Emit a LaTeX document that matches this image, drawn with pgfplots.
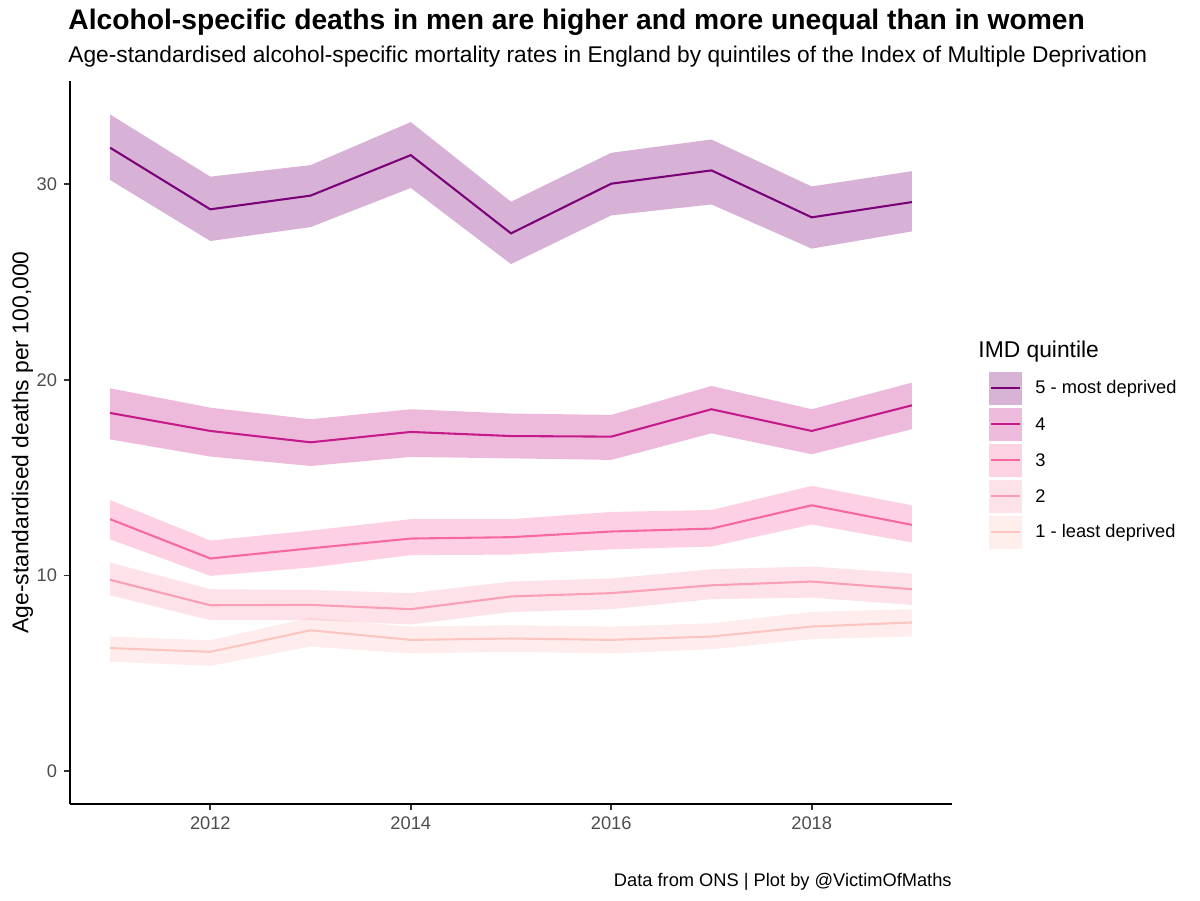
\documentclass[border=0pt]{standalone}
\usepackage{fontspec}
\setmainfont{Liberation Sans}
\usepackage{pgfplots}
\pgfplotsset{compat=1.18}
\usepackage{pgfplotstable}
\usepgfplotslibrary{fillbetween}

\definecolor{q5}{HTML}{7A0177}
\definecolor{q4}{HTML}{C51B8A}
\definecolor{q3}{HTML}{F768A1}
\definecolor{q2}{HTML}{FA9FB5}
\definecolor{q1}{HTML}{FCC5C0}
\definecolor{grey30}{HTML}{4D4D4D}
\definecolor{grey20}{HTML}{333333}

\newlength\px
\setlength\px{0.4818pt}

% year, lower bound, rate, upper bound
\pgfplotstableread{
year lo mid hi
2011 30.22 31.87 33.57
2012 27.10 28.72 30.39
2013 27.81 29.42 30.98
2014 29.81 31.49 33.18
2015 25.92 27.49 29.11
2016 28.41 30.03 31.61
2017 28.97 30.71 32.29
2018 26.71 28.31 29.89
2019 27.59 29.09 30.67
}\tfive
\pgfplotstableread{
year lo mid hi
2011 16.96 18.31 19.57
2012 16.08 17.39 18.58
2013 15.60 16.81 17.99
2014 16.06 17.34 18.50
2015 15.99 17.13 18.28
2016 15.91 17.10 18.21
2017 17.27 18.50 19.69
2018 16.20 17.39 18.50
2019 17.48 18.70 19.86
}\tfour
\pgfplotstableread{
year lo mid hi
2011 11.85 12.88 13.86
2012 9.98 10.87 11.79
2013 10.41 11.39 12.30
2014 11.04 11.89 12.88
2015 11.07 11.96 12.88
2016 11.34 12.25 13.25
2017 11.48 12.40 13.35
2018 12.61 13.59 14.58
2019 11.69 12.59 13.59
}\tthree
\pgfplotstableread{
year lo mid hi
2011 8.99 9.78 10.66
2012 7.72 8.48 9.30
2013 7.72 8.50 9.26
2014 7.50 8.28 9.10
2015 8.14 8.93 9.69
2016 8.28 9.10 9.85
2017 8.79 9.50 10.32
2018 8.87 9.69 10.46
2019 8.50 9.30 10.10
}\ttwo
\pgfplotstableread{
year lo mid hi
2011 5.59 6.29 6.88
2012 5.38 6.10 6.69
2013 6.37 7.20 7.85
2014 6.01 6.71 7.39
2015 6.10 6.78 7.46
2016 6.01 6.71 7.39
2017 6.23 6.88 7.56
2018 6.75 7.39 8.14
2019 6.88 7.60 8.28
}\tone

\begin{document}
\begin{tikzpicture}
\path (0,0) rectangle (1200\px,900\px);

\begin{axis}[
at={(70\px,96\px)}, anchor=south west,
scale only axis,
width=424.95pt, height=348.34pt,
xmin=2010.6, xmax=2019.4,
ymin=-1.68, ymax=35.28,
axis x line*=bottom, axis y line*=left,
axis line style={-, line width=1pt, black},
xtick={2012,2014,2016,2018},
ytick={0,10,20,30},
tick align=outside,
major tick length=2.75pt,
every tick/.append style={grey20, line width=0.9pt},
ticklabel style={font=\fontsize{8.8}{10}\selectfont, text=grey30},
/pgf/number format/assume math mode=true,
x tick label style={/pgf/number format/1000 sep={}},
]
\addplot[draw=none, name path=u1, forget plot] table[x=year, y=hi] {\tone};
\addplot[draw=none, name path=l1, forget plot] table[x=year, y=lo] {\tone};
\addplot[draw=none, name path=u2, forget plot] table[x=year, y=hi] {\ttwo};
\addplot[draw=none, name path=l2, forget plot] table[x=year, y=lo] {\ttwo};
\addplot[draw=none, name path=u3, forget plot] table[x=year, y=hi] {\tthree};
\addplot[draw=none, name path=l3, forget plot] table[x=year, y=lo] {\tthree};
\addplot[draw=none, name path=u4, forget plot] table[x=year, y=hi] {\tfour};
\addplot[draw=none, name path=l4, forget plot] table[x=year, y=lo] {\tfour};
\addplot[draw=none, name path=u5, forget plot] table[x=year, y=hi] {\tfive};
\addplot[draw=none, name path=l5, forget plot] table[x=year, y=lo] {\tfive};

\addplot[fill=q1, fill opacity=0.3, draw=none, forget plot] fill between[of=u1 and l1];
\addplot[fill=q2, fill opacity=0.3, draw=none, forget plot] fill between[of=u2 and l2];
\addplot[fill=q3, fill opacity=0.3, draw=none, forget plot] fill between[of=u3 and l3];
\addplot[fill=q4, fill opacity=0.3, draw=none, forget plot] fill between[of=u4 and l4];
\addplot[fill=q5, fill opacity=0.3, draw=none, forget plot] fill between[of=u5 and l5];

\addplot[q1, line width=1pt] table[x=year, y=mid] {\tone};
\addplot[q2, line width=1pt] table[x=year, y=mid] {\ttwo};
\addplot[q3, line width=1pt] table[x=year, y=mid] {\tthree};
\addplot[q4, line width=1pt] table[x=year, y=mid] {\tfour};
\addplot[q5, line width=1pt] table[x=year, y=mid] {\tfive};
\end{axis}

\begin{scope}[x=\px, y=\px]
% titles
\node[anchor=base west, inner sep=0pt, font=\bfseries\fontsize{13.6}{15}\selectfont] at (68,870.7) {Alcohol-specific deaths in men are higher and more unequal than in women};
\node[anchor=base west, inner sep=0pt, font=\fontsize{10.95}{13}\selectfont] at (68,837.5) {Age-standardised alcohol-specific mortality rates in England by quintiles of the Index of Multiple Deprivation};
\node[anchor=base, rotate=90, inner sep=0pt, font=\fontsize{11}{13}\selectfont] at (28.5,457.5) {Age-standardised deaths per 100,000};
\node[anchor=base east, inner sep=0pt, font=\fontsize{8.8}{10}\selectfont] at (952,14) {Data from ONS | Plot by @VictimOfMaths};

% legend
\node[anchor=west, inner sep=0pt, font=\fontsize{11}{13}\selectfont] at (978,548) {IMD quintile};
\foreach \c/\yc/\lab in {q5/511.7/5 - most deprived, q4/475.7/4, q3/439.7/3, q2/403.7/2, q1/367.7/1 - least deprived}{
  \fill[\c!30!white] (989,\yc-16.5) rectangle ++(33,33);
  \draw[\c, line width=1pt] (991,\yc) -- (1020,\yc);
  \node[anchor=west, inner sep=0pt, font=\fontsize{8.8}{10}\selectfont] at (1035,\yc) {\lab};
}
\end{scope}
\end{tikzpicture}
\end{document}
